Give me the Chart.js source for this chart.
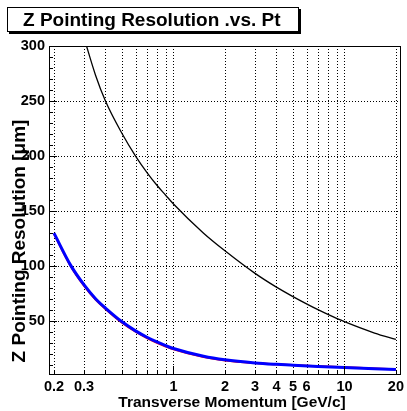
<!DOCTYPE html>
<html>
<head>
<meta charset="utf-8">
<script src="https://cdn.jsdelivr.net/npm/chart.js@4.4.1/dist/chart.umd.min.js"></script>
<style>
  html, body { margin: 0; padding: 0; background: #fff; }
  canvas { display: block; }
</style>
</head>
<body>
<canvas id="chart" width="407" height="411"></canvas>
<script>
// values
const ptBlack  = [0.3, 0.31, 0.35, 0.4, 0.5, 0.6, 0.7, 0.8, 0.9, 1, 1.5, 2, 3, 4, 5, 6, 7, 8, 10, 15, 20];
const resBlack = [307.6, 300, 273.5, 250, 220.5, 200, 185, 173.5, 164.5, 156.5, 130, 114, 93.5, 81, 72.4, 65.8, 60.5, 56.2, 49.6, 39.3, 33.5];

const ptLow   = [0.2, 0.25, 0.3, 0.35, 0.4, 0.5, 0.6, 0.7, 0.8, 0.9, 1, 1.5, 2, 3, 4, 5, 7, 10, 15, 20];
const resBlue = [130, 101, 83, 70.5, 62, 49.5, 41.3, 35.5, 31.2, 27.9, 25.3, 18.2, 15, 12.2, 10.9, 10.1, 9, 8, 6.9, 6.2];
const resRed  = [129.5, 100.2, 82.1, 69.7, 61.2, 48.7, 40.5, 34.7, 30.4, 27.1, 24.5, 17.5, 14.4, 12, 10.9, 10.2, 9.2, 8.3, 7.2, 6.5];

const xTickLabels = [0.2, 0.3, 1, 2, 3, 4, 5, 6, 10, 20];
const xGridLines = [0.2, 0.3, 0.4, 0.5, 0.6, 0.7, 0.8, 0.9, 1, 2, 3, 4, 5, 6, 7, 8, 9, 10, 20];
const yTickLabels = [50, 100, 150, 200, 250, 300];

const titleText = "Z Pointing Resolution .vs. Pt";
const xTitle = "Transverse Momentum [GeV/c]";
const yTitle = "Z Pointing Resolution [\u03bcm]";

const FONT = "'Liberation Sans', Arial, Helvetica, sans-serif";
Chart.defaults.font.family = FONT;
Chart.defaults.color = "#000";

function pts(xs, ys) {
  return xs.map((x, i) => ({ x: x, y: ys[i] }));
}

// ROOT-like frame: dotted grid, inside ticks, box, titles
const rootFrame = {
  id: "rootFrame",
  beforeDatasetsDraw(chart) {
    const ctx = chart.ctx;
    const a = chart.chartArea;
    const xs = chart.scales.x, ys = chart.scales.y;
    ctx.save();
    ctx.strokeStyle = "#000";
    ctx.lineWidth = 1;
    ctx.setLineDash([1, 2]);
    xGridLines.forEach(v => {
      const px = Math.round(xs.getPixelForValue(v)) + 0.5;
      ctx.beginPath();
      ctx.moveTo(px, a.top);
      ctx.lineTo(px, a.bottom);
      ctx.stroke();
    });
    yTickLabels.forEach(v => {
      const py = Math.round(ys.getPixelForValue(v)) + 0.5;
      ctx.beginPath();
      ctx.moveTo(a.left, py);
      ctx.lineTo(a.right, py);
      ctx.stroke();
    });
    ctx.restore();
  },
  afterDatasetsDraw(chart) {
    const ctx = chart.ctx;
    const a = chart.chartArea;
    const xs = chart.scales.x, ys = chart.scales.y;
    ctx.save();
    ctx.strokeStyle = "#000";
    ctx.lineWidth = 1;
    ctx.setLineDash([]);
    ctx.strokeRect(Math.round(a.left) + 0.5, Math.round(a.top) + 0.5,
      Math.round(a.right - a.left) - 1, Math.round(a.bottom - a.top) - 1);

    // x ticks (inside, from bottom)
    xGridLines.forEach(v => {
      const px = Math.round(xs.getPixelForValue(v)) + 0.5;
      const len = (v === 1 || v === 10) ? 9 : 5;
      ctx.beginPath();
      ctx.moveTo(px, a.bottom);
      ctx.lineTo(px, a.bottom - len);
      ctx.stroke();
    });
    // y ticks (inside, from left), minor every 10
    for (let v = 10; v < 300; v += 10) {
      const py = Math.round(ys.getPixelForValue(v)) + 0.5;
      const len = (v % 50 === 0) ? 8 : 4;
      ctx.beginPath();
      ctx.moveTo(a.left, py);
      ctx.lineTo(a.left + len, py);
      ctx.stroke();
    }
    ctx.restore();
  },
  afterDraw(chart) {
    const ctx = chart.ctx;
    ctx.save();
    // title box with shadow
    ctx.fillStyle = "#000";
    ctx.fillRect(9, 9, 292, 25);
    ctx.fillStyle = "#fff";
    ctx.fillRect(7, 7, 292, 25);
    ctx.strokeStyle = "#000";
    ctx.lineWidth = 1;
    ctx.strokeRect(7.5, 7.5, 291, 24);
    ctx.fillStyle = "#000";
    ctx.font = "bold 19px " + FONT;
    ctx.textBaseline = "alphabetic";
    ctx.textAlign = "left";
    ctx.fillText(titleText, 23, 26);

    // axis titles
    ctx.font = "bold 15.5px " + FONT;
    ctx.textAlign = "center";
    ctx.textBaseline = "middle";
    ctx.fillText(xTitle, 232, 403);

    ctx.translate(20, 241);
    ctx.rotate(-Math.PI / 2);
    ctx.font = "bold 19px " + FONT;
    ctx.fillText(yTitle, 0, 0);
    ctx.restore();
  }
};

new Chart(document.getElementById("chart"), {
  type: "line",
  data: {
    datasets: [
      {
        label: "blue",
        data: pts(ptLow, resBlue),
        borderColor: "#0000ff",
        borderWidth: 3,
        pointRadius: 0,
        cubicInterpolationMode: "monotone"
      },
      {
        label: "red",
        data: pts(ptLow, resRed),
        borderColor: "#ff0000",
        borderWidth: 2,
        pointRadius: 0,
        cubicInterpolationMode: "monotone"
      },
      {
        label: "black",
        data: pts(ptBlack, resBlack),
        borderColor: "#000000",
        borderWidth: 1.3,
        pointRadius: 0,
        cubicInterpolationMode: "monotone"
      }
    ]
  },
  options: {
    responsive: false,
    animation: false,
    events: [],
    layout: { padding: { top: 46, right: 2, left: 0, bottom: 0 } },
    plugins: {
      legend: { display: false },
      tooltip: { enabled: false },
      title: { display: false }
    },
    scales: {
      x: {
        type: "logarithmic",
        min: 0.187,
        max: 21.4,
        grid: { display: false, drawTicks: false },
        border: { display: false },
        afterBuildTicks: s => { s.ticks = xTickLabels.map(v => ({ value: v })); },
        afterFit: s => { s.height = 36; },
        ticks: {
          autoSkip: false,
          maxRotation: 0,
          padding: 3,
          font: { size: 14.5, weight: "bold" },
          callback: v => String(v)
        }
      },
      y: {
        min: 1.2,
        max: 300,
        grid: { display: false, drawTicks: false },
        border: { display: false },
        afterBuildTicks: s => { s.ticks = yTickLabels.map(v => ({ value: v })); },
        afterFit: s => { s.width = 49; },
        ticks: {
          autoSkip: false,
          padding: 4,
          font: { size: 14.5, weight: "bold" },
          callback: v => String(v)
        }
      }
    }
  },
  plugins: [rootFrame]
});
</script>
</body>
</html>
